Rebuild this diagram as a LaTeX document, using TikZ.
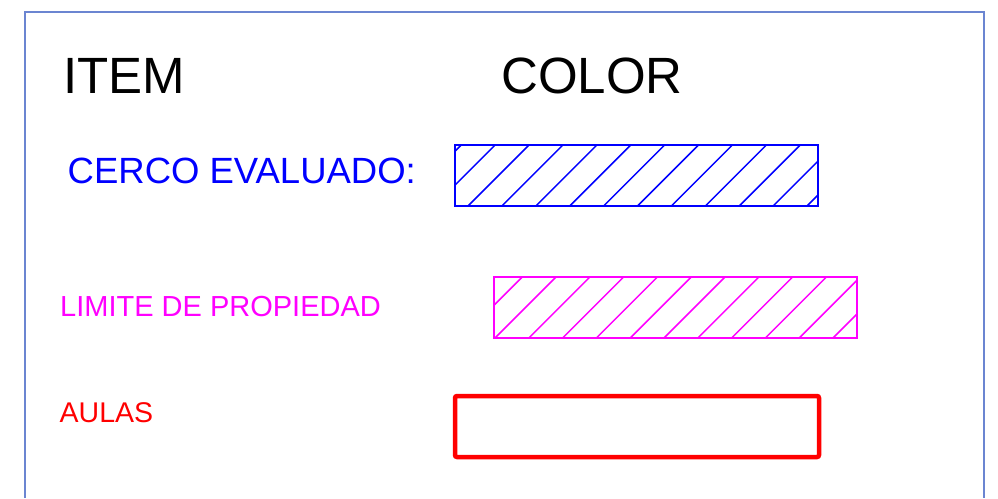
\documentclass[tikz,border=0pt]{standalone}
\usepackage{fontspec}
\setmainfont{Liberation Sans}
\usepackage{tikz}
\usetikzlibrary{positioning, calc}
\definecolor{framecol}{HTML}{6B85D1}
\definecolor{rgbmagenta}{HTML}{FF00FF}
\tikzstyle{head} = [anchor=base west, inner sep=0pt, text=black, font=\fontsize{51}{52}\selectfont]
\tikzstyle{item} = [anchor=base west, inner sep=0pt]
\tikzstyle{swatch} = [rectangle, minimum width=363pt, minimum height=61pt, inner sep=0pt, line width=1.5pt]
\tikzstyle{hatch} = [line width=1.5pt]

\begin{document}
\begin{tikzpicture}[x=1pt, y=-1pt]
  \useasboundingbox (0,0) rectangle (998,498);
  % frame (open at the bottom)
  \coordinate (fbl) at (25,498);
  \coordinate (ftl) at (25,12);
  \coordinate (ftr) at (984,12);
  \coordinate (fbr) at (984,498);
  \draw[framecol, line width=1.3pt] (fbl) -- (ftl) -- (ftr) -- (fbr);
  % Header
  \node[head] (item) at (63,93) {ITEM};
  \node[head] (color) at (501,93) {COLOR};
  % Row 1
  \node[item, text=blue, font=\fontsize{36.5}{38}\selectfont] (cerco) at (67.5,183) {CERCO EVALUADO:};
  \node[swatch, draw=blue] (cercobox) at (636.5,175.5) {};
  % Row 2
  \node[item, text=rgbmagenta, font=\fontsize{29}{30}\selectfont] (limite) at (60,316) {LIMITE DE PROPIEDAD};
  \node[swatch, draw=rgbmagenta] (limitebox) at (675.5,307.5) {};
  % Row 3
  \node[item, text=red, font=\fontsize{28.5}{30}\selectfont] (aulas) at (59.5,422) {AULAS};
  \node[swatch, draw=red, line width=4.5pt, rounded corners=2pt, minimum width=364pt] (aulasbox) at (637,426.5) {};
  % hatching
  \begin{scope}
    \clip (cercobox.south west) rectangle (cercobox.north east);
    \foreach \k in {-2,...,11}
      \draw[hatch, blue] ($(cercobox.south west)+(13+\k*33.9,0)$) -- ++(70,-70);
  \end{scope}
  \begin{scope}
    \clip (limitebox.south west) rectangle (limitebox.north east);
    \foreach \k in {-2,...,11}
      \draw[hatch, rgbmagenta] ($(limitebox.south west)+(1+\k*33.8,0)$) -- ++(70,-70);
  \end{scope}
\end{tikzpicture}
\end{document}
